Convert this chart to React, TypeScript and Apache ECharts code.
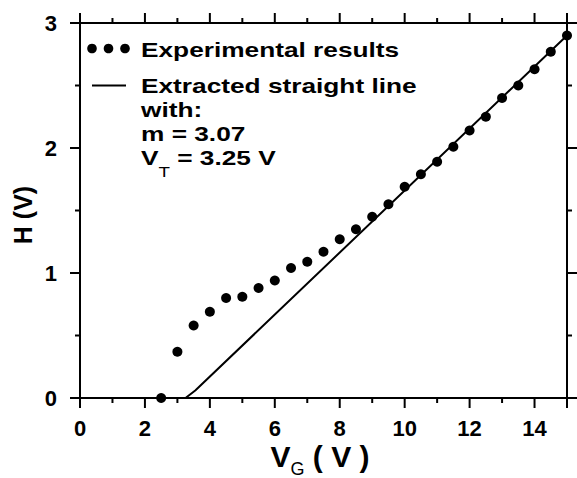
import React, { useEffect, useRef } from 'react';
import * as echarts from 'echarts';

// ---- data ----
const gateVoltage = [2.5, 3, 3.5, 4, 4.5, 5, 5.5, 6, 6.5, 7, 7.5, 8, 8.5, 9, 9.5, 10, 10.5, 11, 11.5, 12, 12.5, 13, 13.5, 14, 14.5, 15];
const hValues = [0, 0.37, 0.58, 0.69, 0.8, 0.81, 0.88, 0.94, 1.04, 1.09, 1.17, 1.27, 1.35, 1.45, 1.55, 1.69, 1.79, 1.89, 2.01, 2.14, 2.25, 2.4, 2.5, 2.63, 2.77, 2.9];
const fitLineX = [3.25, 3.55, 15];
const fitLineY = [0, 0.06, 2.9];
const xRange = [0, 15];
const yRange = [0, 3];
const xMajorTicks = [0, 2, 4, 6, 8, 10, 12, 14, 15];
const xMinorTicks = [1, 3, 5, 7, 9, 11, 13];
const yMajorTicks = [0, 1, 2, 3];
const yMinorTicks = [0.5, 1.5, 2.5];
const legendLines = ['Experimental results', 'Extracted straight line', 'with:', 'm = 3.07'];
const vtLine = ['V', 'T', ' = 3.25 V'];
const xTitle = ['V', 'G', ' ( V )'];
const yTitle = 'H (V)';

const FONT = '"Liberation Sans", Arial, Helvetica, sans-serif';
const INK = '#000';

const baseAxis = (labels: boolean) => ({
  type: 'value',
  axisLine: { show: false },
  axisTick: { show: false },
  minorTick: { show: false },
  splitLine: { show: false },
  axisLabel: labels
    ? { show: true, fontSize: 22, fontWeight: 'bold', fontFamily: FONT, color: INK }
    : { show: false },
});

export default function App() {
  const ref = useRef<HTMLDivElement>(null);

  useEffect(() => {
    const chart = echarts.init(ref.current as HTMLDivElement, null, { renderer: 'svg' });

    const legendStretch = 1.25;
    const textX = 141;
    const lineCenters = [49.5, 85.5, 109.5, 133.5];
    const bottomBase = baseAxis(true);
    const leftBase = baseAxis(true);

    chart.setOption({
      animation: false,
      backgroundColor: '#fff',
      grid: { left: 80, right: 10, top: 23, bottom: 80, outerBoundsMode: 'none' },
      xAxis: [
        {
          ...bottomBase,
          position: 'bottom',
          min: xRange[0],
          max: xRange[1],
          interval: 2,
          axisLabel: {
            ...bottomBase.axisLabel,
            margin: 19,
            formatter: (v: number) => (v === 15 ? '' : String(v)),
          },
        },
      ],
      yAxis: [
        {
          ...leftBase,
          position: 'left',
          min: yRange[0],
          max: yRange[1],
          interval: 1,
          axisLabel: { ...leftBase.axisLabel, margin: 23 },
        },
      ],
      series: [
        {
          name: 'Extracted straight line',
          type: 'line',
          data: fitLineX.map((x, i) => [x, fitLineY[i]]),
          symbol: 'none',
          lineStyle: { color: INK, width: 2 },
          clip: false,
          z: 3,
        },
        {
          name: 'Experimental results',
          type: 'scatter',
          data: gateVoltage.map((x, i) => [x, hValues[i]]),
          symbol: 'circle',
          symbolSize: 10,
          itemStyle: { color: INK, opacity: 1 },
          clip: false,
          z: 4,
        },
      ],
    });

    // frame and ticks placed through the chart's own axis scales
    const px = (v: number) => chart.convertToPixel({ xAxisIndex: 0 }, v) as number;
    const py = (v: number) => chart.convertToPixel({ yAxisIndex: 0 }, v) as number;
    const xl = px(xRange[0]);
    const xr = px(xRange[1]);
    const yb = py(yRange[0]);
    const yt = py(yRange[1]);
    const stroke = { stroke: INK, lineWidth: 2 };
    const seg = (x1: number, y1: number, x2: number, y2: number) => ({
      type: 'line',
      z: 1,
      shape: { x1, y1, x2, y2 },
      style: stroke,
    });
    const frameEls: any[] = [
      { type: 'rect', z: 1, shape: { x: xl, y: yt, width: xr - xl, height: yb - yt }, style: { fill: 'none', ...stroke } },
    ];
    xMajorTicks.forEach((v) => {
      frameEls.push(seg(px(v), yb, px(v), yb + 10));
      frameEls.push(seg(px(v), yt, px(v), yt - 10));
    });
    xMinorTicks.forEach((v) => {
      frameEls.push(seg(px(v), yb, px(v), yb + 5));
      frameEls.push(seg(px(v), yt, px(v), yt - 5));
    });
    yMajorTicks.forEach((v) => {
      frameEls.push(seg(xl, py(v), xl - 10, py(v)));
      frameEls.push(seg(xr, py(v), xr + 10, py(v)));
    });
    yMinorTicks.forEach((v) => {
      frameEls.push(seg(xl, py(v), xl - 5, py(v)));
      frameEls.push(seg(xr, py(v), xr + 5, py(v)));
    });

    chart.setOption({
      graphic: [
        ...frameEls,
        // axis titles
        {
          type: 'text',
          x: 320,
          y: 456,
          style: {
            text: `{v|${xTitle[0]}}{s|${xTitle[1]}}{v|${xTitle[2]}}`,
            align: 'center',
            verticalAlign: 'middle',
            rich: {
              v: { fontSize: 30, fontWeight: 'bold', fontFamily: FONT, fill: INK, lineHeight: 44, verticalAlign: 'middle' },
              s: { fontSize: 18, fontWeight: 'normal', fontFamily: FONT, fill: INK, lineHeight: 18, verticalAlign: 'bottom' },
            },
          },
        },
        {
          type: 'text',
          x: 23,
          y: 215,
          rotation: Math.PI / 2,
          style: {
            text: yTitle,
            fontSize: 25,
            fontWeight: 'bold',
            fontFamily: FONT,
            fill: INK,
            align: 'center',
            verticalAlign: 'middle',
          },
        },
        // legend
        { type: 'circle', shape: { cx: 92, cy: 48.5, r: 4.8 }, style: { fill: INK } },
        { type: 'circle', shape: { cx: 108.5, cy: 48.5, r: 4.8 }, style: { fill: INK } },
        { type: 'circle', shape: { cx: 125, cy: 48.5, r: 4.8 }, style: { fill: INK } },
        { type: 'line', shape: { x1: 92, y1: 85.5, x2: 126, y2: 85.5 }, style: { stroke: INK, lineWidth: 2 } },
        ...legendLines.map((t, i) => ({
          type: 'text',
          x: textX,
          y: lineCenters[i],
          scaleX: legendStretch,
          style: {
            text: t,
            fontSize: 21,
            fontWeight: 'bold',
            fontFamily: FONT,
            fill: INK,
            align: 'left',
            verticalAlign: 'middle',
          },
        })),
        {
          type: 'text',
          x: textX,
          y: 157.5,
          scaleX: legendStretch,
          style: {
            text: `{b|${vtLine[0]}}{s|${vtLine[1]}}{b|${vtLine[2]}}`,
            align: 'left',
            verticalAlign: 'middle',
            rich: {
              b: { fontSize: 21, fontWeight: 'bold', fontFamily: FONT, fill: INK, lineHeight: 44, verticalAlign: 'middle' },
              s: { fontSize: 15, fontWeight: 'normal', fontFamily: FONT, fill: INK, lineHeight: 15, verticalAlign: 'bottom' },
            },
          },
        },
      ],
    });

    return () => chart.dispose();
  }, []);

  return (
    <div style={{ position: 'absolute', left: 0, top: 0, width: 577, height: 478, background: '#fff', overflow: 'hidden' }}>
      <div ref={ref} style={{ width: 577, height: 478 }} />
    </div>
  );
}
